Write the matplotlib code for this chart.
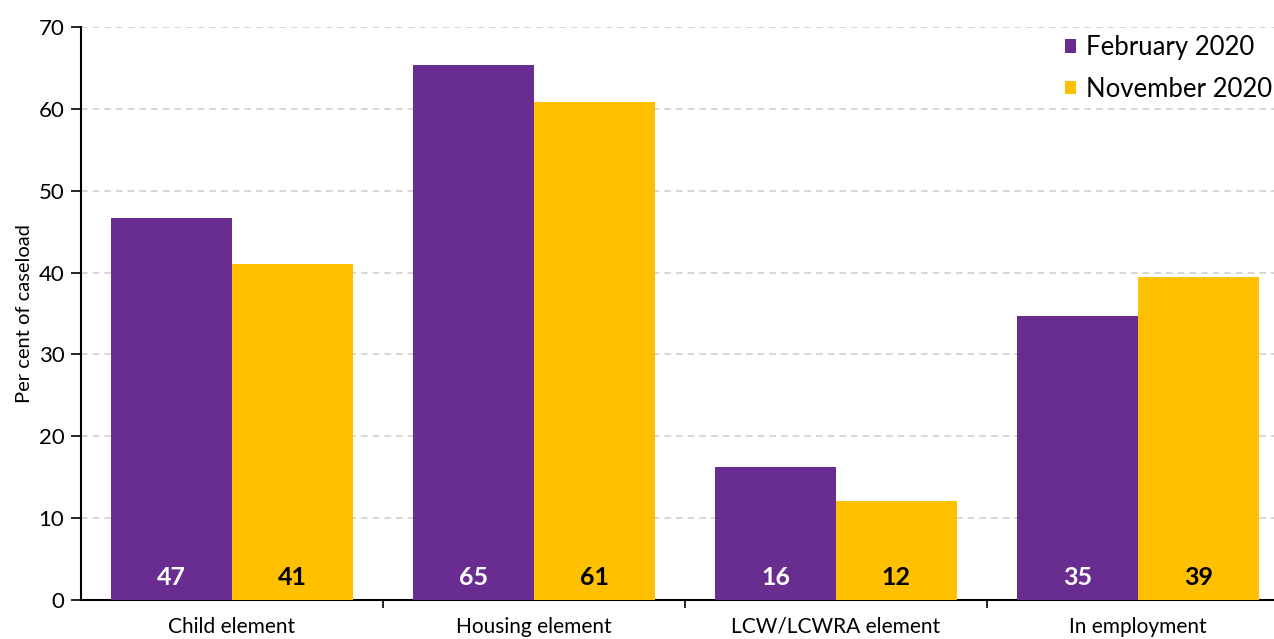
import matplotlib
matplotlib.use("Agg")
import matplotlib.pyplot as plt
import numpy as np

categories = ["Child element", "Housing element", "LCW/LCWRA element", "In employment"]
feb_2020 = [46.7, 65.4, 16.2, 34.7]
nov_2020 = [41.1, 60.8, 12.1, 39.4]
series_names = ["February 2020", "November 2020"]
y_ticks = [0, 10, 20, 30, 40, 50, 60, 70]

PURPLE = "#692C91"
YELLOW = "#FFC000"

plt.rcParams["font.family"] = ["Lato", "DejaVu Sans"]

fig = plt.figure(figsize=(12.74, 6.39), dpi=100)
ax = fig.add_axes([81 / 1274, 1 - 600 / 639, 1208 / 1274, 573 / 639])

x = np.arange(len(categories))
w = 0.4
b1 = ax.bar(x - w / 2, feb_2020, w, color=PURPLE, label=series_names[0], zorder=3)
b2 = ax.bar(x + w / 2, nov_2020, w, color=YELLOW, label=series_names[1], zorder=3)

for bars, col in ((b1, "white"), (b2, "black")):
    for r in bars:
        v = r.get_height()
        ax.text(r.get_x() + r.get_width() / 2, 2.7, f"{v:.0f}", ha="center", va="center",
                color=col, fontsize=18, fontweight="bold", zorder=4)

ax.set_xlim(-0.5, len(categories) - 0.5)
ax.set_ylim(0, 70)
ax.set_yticks(y_ticks)
ax.tick_params(axis="y", labelsize=16, length=7, width=1.2, pad=5)

ax.set_xticks(np.arange(len(categories) - 1) + 0.5)
ax.set_xticklabels([])
ax.tick_params(axis="x", which="major", length=6, width=1.2, direction="out")
ax.set_xticks(x, minor=True)
ax.set_xticklabels(categories, minor=True)
ax.tick_params(axis="x", which="minor", length=0, labelsize=15, pad=12)

ax.grid(axis="y", color="#D0D0D0", linestyle=(0, (4, 3)), linewidth=1.2, zorder=0)
ax.set_axisbelow(True)
for s in ("top", "right"):
    ax.spines[s].set_visible(False)
ax.spines["left"].set_linewidth(1.5)
ax.spines["bottom"].set_linewidth(1.5)

ax.set_ylabel("Per cent of caseload", fontsize=14.5, labelpad=4)

fig.legend(handles=[b1, b2], labels=series_names, loc="upper right",
           bbox_to_anchor=(1272 / 1274, 1 - 35 / 639), bbox_transform=fig.transFigure,
           frameon=False, fontsize=18.5, handlelength=0.45, handleheight=0.45,
           handletextpad=0.38, labelspacing=0.65, borderaxespad=0.0, borderpad=0.0)

fig.savefig("out.png", dpi=100)
